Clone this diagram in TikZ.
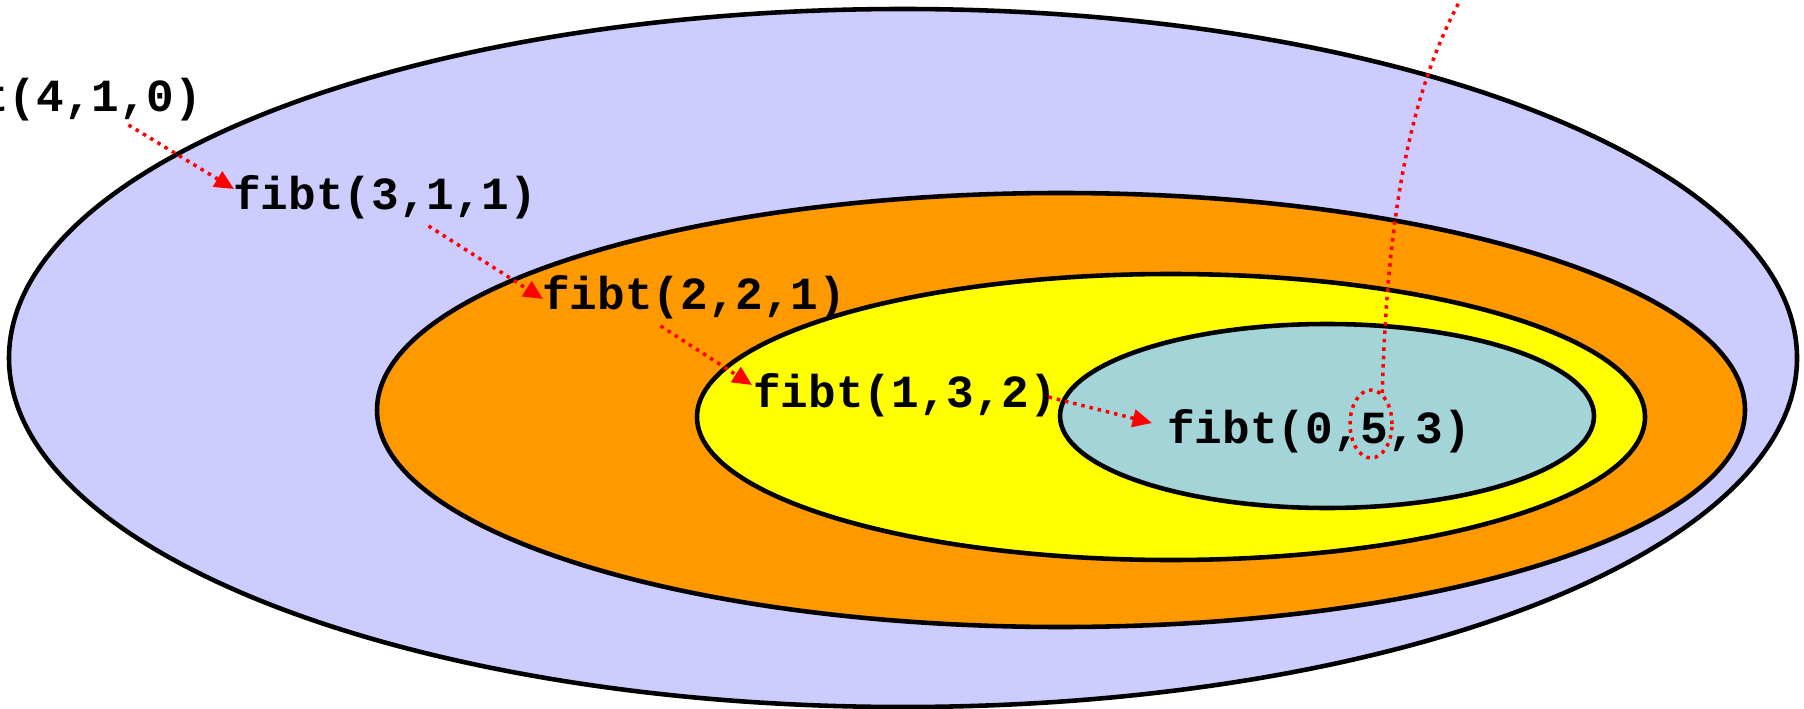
\documentclass[tikz,border=0pt]{standalone}
\usepackage{fontspec}
\newfontfamily\callfont{Liberation Mono}
\usetikzlibrary{arrows.meta,shapes.geometric,calc}

\definecolor{outerblue}{HTML}{CCCCFF}
\definecolor{callorange}{HTML}{FF9900}
\definecolor{callyellow}{HTML}{FFFF00}
\definecolor{innerteal}{HTML}{A3D4D8}

\begin{document}
\begin{tikzpicture}[x=0.02cm,y=-0.02cm,>=Stealth,
  frame/.style={draw=black,line width=2.6pt},
  call/.style={font=\callfont\bfseries\fontsize{26.2}{26.2}\selectfont,
    inner sep=0pt,anchor=base west},
  dots/.style={red,line width=2pt,dash pattern=on 2pt off 2.8pt},
  link/.style={dots,-{Triangle[length=11pt,width=10pt]}},
]
\useasboundingbox (0,0) rectangle (1804,709);

% =====================
% Nested frames
% =====================
\draw[frame,fill=outerblue] (903,358) ellipse [x radius=894,y radius=349];
\draw[frame,fill=callorange] (1061,410) ellipse [x radius=684,y radius=217];
\draw[frame,fill=callyellow] (1171,417) ellipse [x radius=474,y radius=143];
\draw[frame,fill=innerteal] (1327,416) ellipse [x radius=267,y radius=92];

% =====================
% Calls
% =====================
\node[call] (f410) at (-102,112) {fibt(4,1,0)};
\node[call] (f311) at (233,210) {fibt(3,1,1)};
\node[call] (f221) at (542,310) {fibt(2,2,1)};
\node[call] (f132) at (753,407) {fibt(1,3,2)};
\node[call] (f053) at (1167,443) {fibt(0,5,3)};

\draw[link] ($(f410.base east)+(-74,13)$) -- ($(f311.base west)+(1,-21)$);
\draw[link] ($(f311.base east)+(-109,16)$) -- ($(f221.base west)+(1,-11)$);
\draw[link] ($(f221.base east)+(-186,16)$) -- ($(f132.base west)+(-1,-22)$);
\draw[link] ($(f132.base east)+(-9,-10)$) -- ($(f053.base west)+(-15,-20)$);

% =====================
% Result
% =====================
\node[ellipse,draw,dots,minimum width=0.84cm,minimum height=1.36cm,
  inner sep=0pt] (five) at (1371,424) {};
\coordinate (up) at (1478,-30);
\draw[dots] (five.70) .. controls (1388,180) and (1420,60) .. (up);

\end{tikzpicture}
\end{document}
